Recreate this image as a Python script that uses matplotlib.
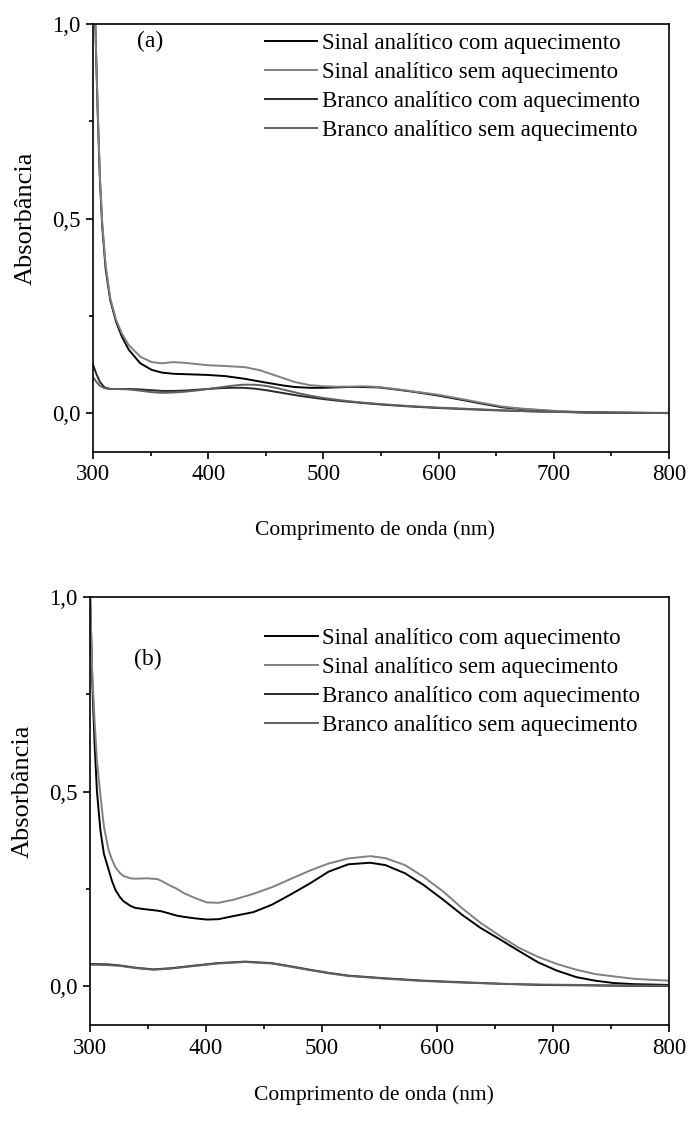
import matplotlib
matplotlib.use("Agg")
import matplotlib.pyplot as plt
from matplotlib.ticker import MultipleLocator, FuncFormatter

plt.rcParams['font.family'] = ['Liberation Serif', 'DejaVu Serif']

# ---------------- data: panel (a) ----------------
wl_a_sig = [300, 302, 304, 306, 308, 311, 315, 320, 325, 331, 341, 351, 360, 370, 380, 390,
            400, 415, 432, 445, 455, 465, 475, 488, 500, 510, 522, 535, 548, 565, 580, 600,
            622, 640, 655, 670, 689, 705, 722, 750, 775, 800]
a_sinal_com = [1.35, 1.0, 0.78, 0.60, 0.48, 0.37, 0.29, 0.235, 0.197, 0.163, 0.128, 0.111, 0.104,
               0.101, 0.100, 0.099, 0.098, 0.095, 0.088, 0.081, 0.076, 0.071, 0.067, 0.065, 0.065,
               0.066, 0.067, 0.067, 0.066, 0.060, 0.054, 0.045, 0.033, 0.023, 0.015, 0.011, 0.007,
               0.004, 0.002, 0.001, 0.0005, 0.0]
a_sinal_sem = [1.35, 1.0, 0.79, 0.61, 0.49, 0.38, 0.295, 0.24, 0.205, 0.175, 0.145, 0.131, 0.128,
               0.131, 0.129, 0.126, 0.123, 0.121, 0.118, 0.110, 0.100, 0.090, 0.080, 0.072, 0.069,
               0.068, 0.068, 0.069, 0.067, 0.061, 0.055, 0.047, 0.035, 0.025, 0.017, 0.012, 0.008,
               0.005, 0.003, 0.0015, 0.001, 0.0005]
wl_a_br = [300, 303, 306, 310, 315, 320, 330, 340, 350, 360, 370, 380, 390, 400, 410, 420, 430,
           440, 450, 460, 470, 480, 490, 500, 515, 530, 550, 575, 600, 625, 650, 675, 700, 725,
           750, 775, 800]
a_branco_com = [0.125, 0.10, 0.08, 0.066, 0.062, 0.062, 0.062, 0.061, 0.059, 0.057, 0.057, 0.058,
                0.060, 0.062, 0.064, 0.065, 0.065, 0.063, 0.059, 0.054, 0.049, 0.044, 0.040, 0.036,
                0.031, 0.027, 0.022, 0.017, 0.013, 0.010, 0.007, 0.005, 0.003, 0.002, 0.001,
                0.0005, 0.0]
a_branco_sem = [0.093, 0.08, 0.07, 0.064, 0.062, 0.062, 0.061, 0.058, 0.054, 0.052, 0.053, 0.055,
                0.058, 0.062, 0.066, 0.070, 0.073, 0.073, 0.070, 0.064, 0.057, 0.050, 0.044, 0.039,
                0.033, 0.028, 0.023, 0.018, 0.014, 0.011, 0.008, 0.005, 0.003, 0.002, 0.001,
                0.0005, 0.0]

# ---------------- data: panel (b) ----------------
wl_b_sig = [300, 302, 304, 306, 309, 312, 316, 319, 322, 326, 329, 335, 339, 349, 358, 362, 368,
            375, 381, 391, 401, 411, 424, 441, 457, 473, 490, 506, 523, 542, 555, 572, 588, 605,
            621, 637, 654, 670, 687, 703, 720, 736, 752, 769, 785, 800]
b_sinal_com = [1.02, 0.78, 0.62, 0.50, 0.40, 0.34, 0.30, 0.27, 0.247, 0.228, 0.218, 0.206, 0.201,
               0.197, 0.194, 0.192, 0.187, 0.181, 0.178, 0.174, 0.171, 0.172, 0.180, 0.190, 0.209,
               0.235, 0.264, 0.294, 0.313, 0.317, 0.311, 0.290, 0.260, 0.222, 0.184, 0.150, 0.120,
               0.091, 0.061, 0.040, 0.023, 0.014, 0.008, 0.005, 0.004, 0.003]
b_sinal_sem = [1.02, 0.80, 0.68, 0.58, 0.49, 0.41, 0.35, 0.325, 0.305, 0.29, 0.283, 0.277, 0.276,
               0.277, 0.275, 0.270, 0.260, 0.250, 0.239, 0.226, 0.215, 0.214, 0.222, 0.237, 0.254,
               0.275, 0.297, 0.315, 0.328, 0.334, 0.329, 0.311, 0.281, 0.243, 0.201, 0.163, 0.129,
               0.099, 0.075, 0.057, 0.042, 0.031, 0.025, 0.019, 0.016, 0.014]
wl_b_br = [300, 315, 326, 340, 355, 370, 391, 410, 434, 457, 473, 490, 506, 523, 555, 588, 621,
           654, 687, 720, 750, 800]
b_branco_com = [0.057, 0.056, 0.053, 0.047, 0.043, 0.046, 0.053, 0.059, 0.063, 0.059, 0.051, 0.042,
                0.034, 0.027, 0.020, 0.014, 0.010, 0.006, 0.003, 0.002, 0.001, 0.0]
b_branco_sem = [0.055, 0.054, 0.052, 0.046, 0.042, 0.045, 0.052, 0.058, 0.062, 0.058, 0.050, 0.041,
                0.033, 0.026, 0.019, 0.013, 0.009, 0.006, 0.004, 0.003, 0.002, 0.001]

labels = ["Sinal analítico com aquecimento", "Sinal analítico sem aquecimento",
          "Branco analítico com aquecimento", "Branco analítico sem aquecimento"]
colors = ["#000000", "#808080", "#2a2a2a", "#606060"]
panel_tags = ["(a)", "(b)"]
xlabel = "Comprimento de onda (nm)"
ylabel = "Absorbância"

W, H = 688, 1131
fig = plt.figure(figsize=(W / 100, H / 100), dpi=100)

def px_axes(l, r, t, b):
    return fig.add_axes([l / W, 1 - b / H, (r - l) / W, (b - t) / H])

ax_a = px_axes(93, 669, 24, 452)
ax_b = px_axes(90, 669, 597, 1025)

panels = [
    (ax_a, [(wl_a_sig, a_sinal_com), (wl_a_sig, a_sinal_sem), (wl_a_br, a_branco_com), (wl_a_br, a_branco_sem)],
     (338, 0.955), (0.298, 0.979), -0.16),
    (ax_b, [(wl_b_sig, b_sinal_com), (wl_b_sig, b_sinal_sem), (wl_b_br, b_branco_com), (wl_b_br, b_branco_sem)],
     (338, 0.84), (0.302, 0.928), -0.14),
]

fmt = FuncFormatter(lambda v, p: f"{v:.1f}".replace(".", ","))

for i, (ax, series, tagpos, legpos, xlab_y) in enumerate(panels):
    for k in range(4):
        wl, y = series[k]
        ax.plot(wl, y, color=colors[k], lw=1.4, label=labels[k], solid_joinstyle='round')
    ax.set_xlim(300, 800)
    ax.set_ylim(-0.1, 1.0)
    ax.xaxis.set_major_locator(MultipleLocator(100))
    ax.xaxis.set_minor_locator(MultipleLocator(50))
    ax.yaxis.set_major_locator(MultipleLocator(0.5))
    ax.yaxis.set_minor_locator(MultipleLocator(0.25))
    ax.yaxis.set_major_formatter(fmt)
    ax.tick_params(which='major', direction='out', length=5, width=1.2, labelsize=16.5, pad=4,
                   top=False, right=False)
    ax.tick_params(which='minor', direction='out', length=3, width=1.2, top=False, right=False)
    for s in ax.spines.values():
        s.set_linewidth(1.2)
    ax.set_xlabel(xlabel, fontsize=15.5)
    ax.xaxis.set_label_coords(0.49, xlab_y)
    ax.set_ylabel(ylabel, fontsize=19)
    ax.yaxis.set_label_coords(-0.098, 0.545)
    ax.text(tagpos[0], tagpos[1], panel_tags[i], fontsize=17, ha='left', va='center')
    ax.legend(loc='upper left', bbox_to_anchor=legpos, frameon=False, fontsize=16.5,
              handlelength=2.3, handletextpad=0.2, labelspacing=0.35, borderpad=0,
              borderaxespad=0)

fig.savefig("out.png", dpi=100)
